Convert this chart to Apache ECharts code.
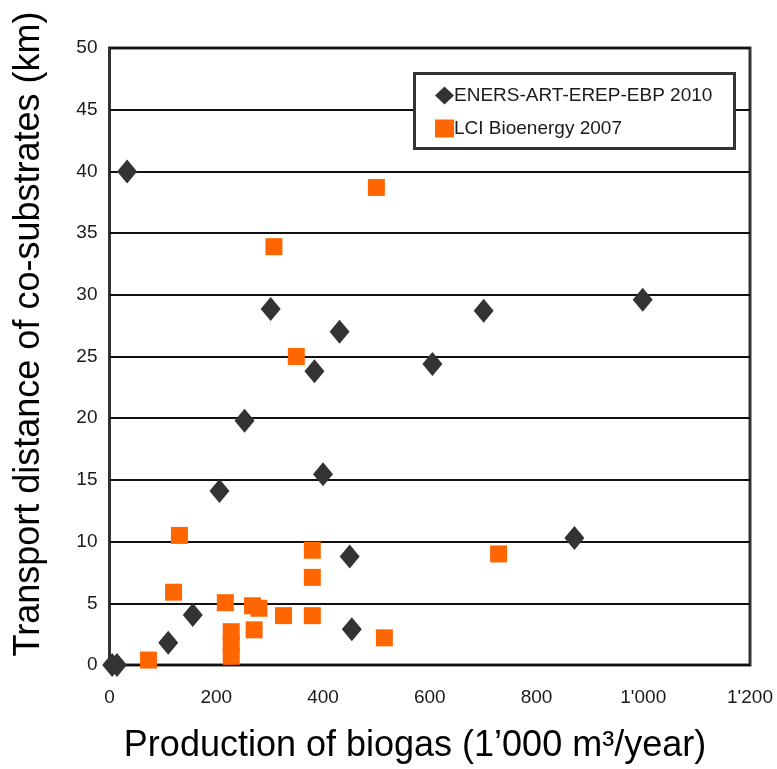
<!DOCTYPE html>
<html>
<head>
<meta charset="utf-8">
<script src="https://cdn.jsdelivr.net/npm/echarts@6/dist/echarts.min.js"></script>
<style>html,body{margin:0;padding:0;background:#fff;}#c{width:777px;height:769px;}</style>
</head>
<body>
<div id="c"></div>
<script>
const seriesNames = ['ENERS-ART-EREP-EBP 2010', 'LCI Bioenergy 2007'];
const enersX = [5, 14, 33, 110, 156, 206, 253, 302, 384, 400, 431, 450, 454, 605, 701, 871, 999];
const enersY = [0, 0, 40, 1.8, 4.05, 14.1, 19.8, 28.85, 23.8, 15.45, 27.0, 8.8, 2.9, 24.4, 28.7, 10.3, 29.6];
const lciX = [73, 120, 131, 217, 228, 228, 228, 268, 271, 280, 308, 326, 350, 380, 380, 380, 500, 515, 729];
const lciY = [0.4, 5.9, 10.5, 5.05, 2.7, 1.7, 0.7, 4.8, 2.85, 4.6, 33.9, 4.0, 25.0, 9.3, 7.1, 4.0, 38.7, 2.2, 9.0];
const xTickLabels = {0:'0',200:'200',400:'400',600:'600',800:'800',1000:"1'000",1200:"1'200"};
const xTitle = 'Production of biogas (1’000 m³/year)';
const yTitle = 'Transport distance of co-substrates (km)';

const font = "'Liberation Sans',Arial,sans-serif";
const chart = echarts.init(document.getElementById('c'), null, {renderer: 'canvas'});
const zip = (a, b) => a.map((v, i) => [v, b[i]]);
chart.setOption({
  animation: false,
  backgroundColor: '#fff',
  grid: {left: 109.5, right: 27, top: 48, bottom: 104, outerBoundsMode: 'none', containLabel: false,
         show: true, borderColor: '#333', borderWidth: 3, backgroundColor: 'transparent'},
  xAxis: {
    type: 'value', min: 0, max: 1200, interval: 200,
    axisLine: {show: false}, axisTick: {show: false}, splitLine: {show: false},
    axisLabel: {margin: 23, fontSize: 19, color: '#1a1a1a', fontFamily: font, formatter: v => xTickLabels[v]}
  },
  yAxis: {
    type: 'value', min: 0, max: 50, interval: 5,
    axisLine: {show: false}, axisTick: {show: false},
    splitLine: {show: true, lineStyle: {color: '#111', width: 2}},
    axisLabel: {margin: 12, fontSize: 19, color: '#1a1a1a', fontFamily: font}
  },
  graphic: [{
    type: 'rect', left: 413, top: 72, z: 10,
    shape: {width: 320, height: 75},
    style: {fill: '#fff', stroke: '#333', lineWidth: 3}
  }, {
    type: 'text', x: 415, y: 746, z: 10,
    style: {text: xTitle, fontSize: 36, fontFamily: font, fill: '#000', textAlign: 'center', textVerticalAlign: 'middle'}
  }, {
    type: 'text', x: 29, y: 334, rotation: Math.PI / 2, z: 10,
    style: {text: yTitle, fontSize: 36, fontFamily: font, fill: '#000', textAlign: 'center', textVerticalAlign: 'middle'}
  }],
  legend: {
    orient: 'vertical', left: 430, top: 81, z: 20, itemGap: 14,
    itemWidth: 19, itemHeight: 18,
    textStyle: {fontSize: 19, color: '#1a1a1a', fontFamily: font, padding: [0, 0, 0, -5]},
    data: [
      {name: seriesNames[0], icon: 'diamond', itemStyle: {color: '#333', opacity: 1}},
      {name: seriesNames[1], icon: 'rect', itemStyle: {color: '#ff6600', opacity: 1}}
    ]
  },
  series: [
    {name: seriesNames[0], type: 'scatter', symbol: 'diamond', symbolSize: [20, 24], z: 5,
     itemStyle: {color: '#333', opacity: 1}, data: zip(enersX, enersY)},
    {name: seriesNames[1], type: 'scatter', symbol: 'rect', symbolSize: 17, z: 4,
     itemStyle: {color: '#ff6600', opacity: 1}, data: zip(lciX, lciY)}
  ]
});
</script>
</body>
</html>
